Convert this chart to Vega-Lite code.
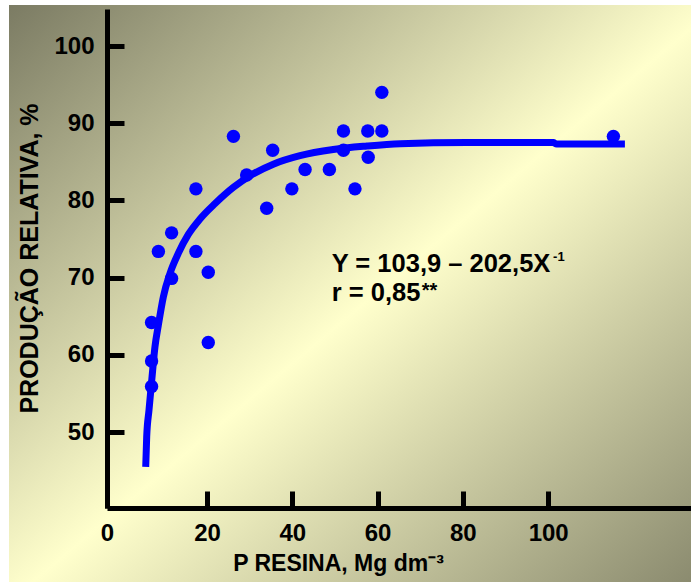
{
  "$schema": "https://vega.github.io/schema/vega-lite/v6.json",
  "width": 584,
  "height": 499,
  "autosize": {"type": "none"},
  "padding": {"left": 107, "top": 9, "right": 0, "bottom": 74},
  "background": "#ffffff",
  "config": {
    "view": {"stroke": null, "fill": null},
    "axis": {
      "grid": false,
      "domainColor": "#000000",
      "domainWidth": 5,
      "tickColor": "#000000",
      "tickWidth": 5,
      "tickSize": -17,
      "labelPadding": 30,
      "labelFont": "Liberation Sans",
      "labelFontWeight": "bold",
      "labelFontSize": 24,
      "labelColor": "#000000",
      "labelFlush": false,
      "labelOverlap": false,
      "titleFont": "Liberation Sans",
      "titleFontWeight": "bold",
      "titleFontSize": 24,
      "titleColor": "#000000"
    }
  },
  "datasets": {
    "bg": [{"x": -26.43, "x2": 140, "y": 28, "y2": 105.31}],
    "pts": [
      {"x": 61.0, "y": 94.0}, {"x": 52.0, "y": 89.0}, {"x": 57.7, "y": 89.0}, {"x": 61.0, "y": 89.0},
      {"x": 26.2, "y": 88.3}, {"x": 35.4, "y": 86.5}, {"x": 52.0, "y": 86.5}, {"x": 57.8, "y": 85.6},
      {"x": 29.3, "y": 83.3}, {"x": 43.0, "y": 84.0}, {"x": 48.7, "y": 84.0}, {"x": 17.4, "y": 81.5},
      {"x": 39.9, "y": 81.5}, {"x": 54.7, "y": 81.5}, {"x": 34.0, "y": 79.0}, {"x": 11.7, "y": 75.8},
      {"x": 8.6, "y": 73.4}, {"x": 17.4, "y": 73.4}, {"x": 20.3, "y": 70.7}, {"x": 11.7, "y": 69.9},
      {"x": 7.0, "y": 64.2}, {"x": 20.3, "y": 61.6}, {"x": 7.0, "y": 59.2}, {"x": 7.0, "y": 55.9},
      {"x": 115.3, "y": 88.3}
    ],
    "curve": [
      {"x": 5.63, "y": 45.5}, {"x": 5.86, "y": 49.4}, {"x": 6.4, "y": 52.85}, {"x": 7.04, "y": 56.7},
      {"x": 7.8, "y": 61.05}, {"x": 8.58, "y": 63.8}, {"x": 9.76, "y": 67.5}, {"x": 11.33, "y": 70.56},
      {"x": 13.27, "y": 73.15}, {"x": 15.62, "y": 75.6}, {"x": 18.36, "y": 77.6}, {"x": 21.9, "y": 79.6},
      {"x": 26.2, "y": 81.7}, {"x": 30.1, "y": 83.2}, {"x": 35.55, "y": 84.7}, {"x": 41.8, "y": 85.8},
      {"x": 49.6, "y": 86.6}, {"x": 57.5, "y": 87.05}, {"x": 65.3, "y": 87.35}, {"x": 80.9, "y": 87.5},
      {"x": 101.2, "y": 87.5}, {"x": 102.0, "y": 87.3}, {"x": 118.0, "y": 87.3}
    ],
    "ann": [
      {"x": 49.25, "y": 70.77, "label": "Y = 103,9 – 202,5X"},
      {"x": 49.25, "y": 67.01, "label": "r = 0,85"}
    ],
    "sup": [
      {"x": 101.15, "y": 72.15, "label": "-1"}
    ],
    "stars": [
      {"x": 70.36, "y": 67.49, "label": "**"}
    ]
  },
  "encoding": {
    "x": {
      "field": "x",
      "type": "quantitative",
      "scale": {"domain": [-3.45, 133.5], "nice": false, "zero": false},
      "axis": {
        "zindex": 2,
        "values": [-3.45, 20, 40, 60, 80, 100],
        "labelExpr": "datum.value < 0 ? '0' : datum.label",
        "title": "P RESINA, Mg dm⁻³",
        "titleX": 231,
        "titleY": 62,
        "titleAlign": "center",
        "titleBaseline": "alphabetic",
        "titleFontSize": 23
      }
    },
    "y": {
      "field": "y",
      "type": "quantitative",
      "scale": {"domain": [40.16, 104.8], "nice": false, "zero": false},
      "axis": {
        "zindex": 2,
        "values": [50, 60, 70, 80, 90, 100],
        "title": "PRODUÇÃO RELATIVA, %",
        "titleX": -70,
        "titleY": 249,
        "titleAlign": "center",
        "titleBaseline": "alphabetic",
        "titleFontSize": 25
      }
    }
  },
  "layer": [
    {
      "data": {"name": "bg"},
      "mark": {
        "type": "rect",
        "clip": false,
        "zindex": 0,
        "color": {
          "gradient": "linear",
          "x1": 0, "y1": 0, "x2": 1, "y2": 1,
          "stops": [
            {"offset": 0, "color": "#7b7b63"},
            {"offset": 0.5, "color": "#ffffcc"},
            {"offset": 1, "color": "#828268"}
          ]
        }
      },
      "encoding": {
        "x2": {"field": "x2"},
        "y2": {"field": "y2"}
      }
    },
    {
      "data": {"name": "curve"},
      "mark": {"type": "line", "color": "#0000ff", "strokeWidth": 7, "interpolate": "monotone"},
      "encoding": {"order": {"field": "x", "type": "quantitative"}}
    },
    {
      "data": {"name": "pts"},
      "mark": {"type": "circle", "color": "#0000ff", "opacity": 1, "size": 180}
    },
    {
      "data": {"name": "ann"},
      "mark": {"type": "text", "align": "left", "baseline": "alphabetic", "font": "Liberation Sans", "fontWeight": "bold", "fontSize": 25.5, "color": "#000000"},
      "encoding": {"text": {"field": "label"}}
    },
    {
      "data": {"name": "sup"},
      "mark": {"type": "text", "align": "left", "baseline": "alphabetic", "font": "Liberation Sans", "fontWeight": "bold", "fontSize": 13, "color": "#000000"},
      "encoding": {"text": {"field": "label"}}
    },
    {
      "data": {"name": "stars"},
      "mark": {"type": "text", "align": "left", "baseline": "alphabetic", "font": "Liberation Sans", "fontWeight": "bold", "fontSize": 20, "color": "#000000"},
      "encoding": {"text": {"field": "label"}}
    }
  ]
}
